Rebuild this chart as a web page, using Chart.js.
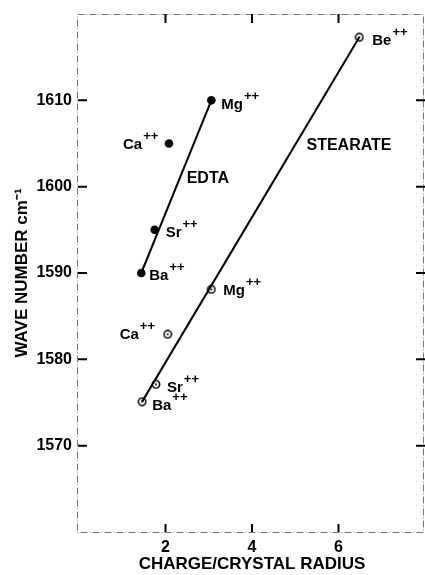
<!DOCTYPE html>
<html lang="en">
<head>
<meta charset="UTF-8">
<style>
body {
    margin: 0;
    background: #fff;
}
#wrap {
    width: 425px;
    height: 575px;
}
</style>
</head>
<body>
<div id="wrap"><canvas id="waveChart" width="425" height="575"></canvas></div>
<script src="https://cdn.jsdelivr.net/npm/chart.js"></script>
<script>
// Carboxylate band position vs. charge/crystal radius of the cation
const edtaIons = ['Ba', 'Sr', 'Ca', 'Mg'];
const edtaRadius = [1.44, 1.75, 2.08, 3.06];
const edtaWave = [1590, 1595, 1605, 1610];

const stearateIons = ['Ba', 'Sr', 'Ca', 'Mg', 'Be'];
const stearateRadius = [1.46, 1.78, 2.05, 3.06, 6.48];
const stearateWave = [1575.1, 1577.1, 1582.9, 1588.1, 1617.3];

const xTicks = [2, 4, 6];
const yTicks = [1570, 1580, 1590, 1600, 1610];

// series names, placed in data units
const seriesNames = ['EDTA', 'STEARATE'];
const seriesNameAt = [[2.49, 1600.4], [5.26, 1604.2]];

// label offsets from each point (left edge, baseline), pixels
const edtaLabelPos = [[8, 7], [11, 7], [-46, 5], [10, 9]];
const stearateLabelPos = [[10, 8], [11, 8], [-48, 5], [12, 6], [13, 8]];

const toPoints = (xs, ys) => xs.map((x, i) => ({x: x, y: ys[i]}));
const edtaPts = toPoints(edtaRadius, edtaWave);
const stearatePts = toPoints(stearateRadius, stearateWave);

// fitted lines: EDTA Ba -> Mg, stearate Ba -> Be
const edtaFit = [edtaPts[0], edtaPts[3]];
const stearateFit = [stearatePts[0], stearatePts[4]];

// open circle with a centre dot
const ring = document.createElement('canvas');
ring.width = 10; ring.height = 10;
(function () {
    const c = ring.getContext('2d');
    c.beginPath();
    c.arc(5, 5, 3.7, 0, 2 * Math.PI);
    c.fillStyle = '#fff';
    c.fill();
    c.lineWidth = 1.5;
    c.strokeStyle = '#000';
    c.stroke();
    c.beginPath();
    c.arc(5, 5, 1, 0, 2 * Math.PI);
    c.fillStyle = '#000';
    c.fill();
})();

const FONT = '"Liberation Sans", Arial, sans-serif';

function ionLabel(ctx, x, y, name) {
    ctx.font = 'bold 15px ' + FONT;
    ctx.textBaseline = 'alphabetic';
    ctx.textAlign = 'left';
    ctx.fillText(name, x, y);
    const w = ctx.measureText(name).width;
    ctx.font = 'bold 13px ' + FONT;
    ctx.fillText('++', x + w + 1, y - 9);
}

const framePlugin = {
    id: 'frame',
    afterDraw(chart) {
        const ctx = chart.ctx;
        const a = chart.chartArea;
        const xs = chart.scales.x, ys = chart.scales.y;
        ctx.save();
        // dotted frame
        ctx.strokeStyle = '#777';
        ctx.lineWidth = 1;
        ctx.setLineDash([7, 2, 1, 2]);
        ctx.strokeRect(a.left - 1.5, a.top + 0.5, a.right - a.left, a.bottom - a.top);
        ctx.setLineDash([]);
        // inward tick marks on all four sides
        ctx.strokeStyle = '#000';
        ctx.lineWidth = 2;
        ctx.beginPath();
        xTicks.forEach(v => {
            const px = xs.getPixelForValue(v);
            ctx.moveTo(px, a.bottom); ctx.lineTo(px, a.bottom - 8);
            ctx.moveTo(px, a.top); ctx.lineTo(px, a.top + 9);
        });
        yTicks.forEach(v => {
            const py = ys.getPixelForValue(v);
            ctx.moveTo(a.left - 1, py); ctx.lineTo(a.left + 8, py);
            ctx.moveTo(a.right, py); ctx.lineTo(a.right - 9, py);
        });
        ctx.stroke();
        // ion labels
        ctx.fillStyle = '#000';
        edtaPts.forEach((p, i) => {
            ionLabel(ctx, xs.getPixelForValue(p.x) + edtaLabelPos[i][0],
                ys.getPixelForValue(p.y) + edtaLabelPos[i][1], edtaIons[i]);
        });
        stearatePts.forEach((p, i) => {
            ionLabel(ctx, xs.getPixelForValue(p.x) + stearateLabelPos[i][0],
                ys.getPixelForValue(p.y) + stearateLabelPos[i][1], stearateIons[i]);
        });
        // series names
        ctx.font = 'bold 16px ' + FONT;
        ctx.textAlign = 'left';
        ctx.textBaseline = 'alphabetic';
        seriesNames.forEach((name, i) => {
            ctx.fillText(name, xs.getPixelForValue(seriesNameAt[i][0]),
                ys.getPixelForValue(seriesNameAt[i][1]));
        });
        ctx.restore();
    }
};

new Chart(document.getElementById('waveChart'), {
    type: 'scatter',
    data: {
        datasets: [
            {
                data: edtaFit,
                showLine: true,
                borderColor: '#000',
                borderWidth: 2,
                pointRadius: 0
            },
            {
                data: stearateFit,
                showLine: true,
                borderColor: '#000',
                borderWidth: 2,
                pointRadius: 0
            },
            {
                label: 'EDTA',
                data: edtaPts,
                pointRadius: 4.3,
                backgroundColor: '#000',
                borderColor: '#000',
                borderWidth: 0
            },
            {
                label: 'STEARATE',
                data: stearatePts,
                pointStyle: ring,
                pointRadius: 5
            }
        ]
    },
    options: {
        responsive: false,
        animation: false,
        events: [],
        layout: {
            autoPadding: false,
            padding: {top: 14, right: 0, left: 0, bottom: 0}
        },
        scales: {
            x: {
                type: 'linear',
                min: 0,
                max: 8,
                afterFit: s => {
                    s.height = 43;
                    s.paddingLeft = 0;
                    s.paddingRight = 0;
                },
                afterBuildTicks: s => { s.ticks = xTicks.map(v => ({value: v})); },
                grid: {display: false, drawTicks: false},
                border: {display: false},
                ticks: {
                    color: '#000',
                    padding: 6,
                    font: {family: FONT, size: 16, weight: 'bold'},
                    callback: v => String(v)
                },
                title: {
                    display: true,
                    text: 'CHARGE/CRYSTAL RADIUS',
                    color: '#000',
                    padding: {top: 0, bottom: 0},
                    font: {family: FONT, size: 17, weight: 'bold'}
                }
            },
            y: {
                type: 'linear',
                min: 1560,
                max: 1620,
                afterFit: s => {
                    s.width = 79;
                    s.paddingTop = 0;
                    s.paddingBottom = 0;
                },
                afterBuildTicks: s => { s.ticks = yTicks.map(v => ({value: v})); },
                grid: {display: false, drawTicks: false},
                border: {display: false},
                ticks: {
                    color: '#000',
                    padding: 7,
                    font: {family: FONT, size: 16, weight: 'bold'},
                    callback: v => String(v)
                },
                title: {
                    display: true,
                    text: 'WAVE NUMBER cm\u207B\u00B9',
                    color: '#000',
                    padding: {top: 12, bottom: 0},
                    font: {family: FONT, size: 17, weight: 'bold'}
                }
            }
        },
        plugins: {
            legend: {display: false},
            tooltip: {enabled: false}
        }
    },
    plugins: [framePlugin]
});
</script>
</body>
</html>
